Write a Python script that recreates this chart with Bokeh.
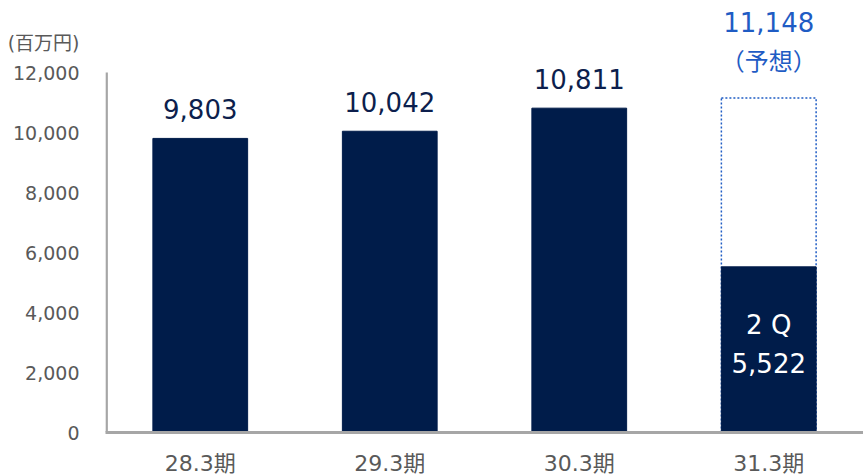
from bokeh.plotting import figure
from bokeh.models import Range1d, FactorRange, ColumnDataSource, FixedTicker, NumeralTickFormatter, CustomJSTickFormatter
from bokeh.core.properties import value
from bokeh.embed import file_html
from bokeh.resources import INLINE

categories = ["28.3期", "29.3期", "30.3期", "31.3期"]
actual = [9803, 10042, 10811, 5522]
actual_labels = ["9,803", "10,042", "10,811", ""]
forecast_cat = ["31.3期"]
forecast_val = [11148]
forecast_label = "11,148"
forecast_note = "（予想）"
q_label = "2 Q"
q_value = "5,522"
unit_label = "(百万円)"
y_ticks = [0, 2000, 4000, 6000, 8000, 10000, 12000]
y_max = 12000

FONT = "DejaVu Sans, Noto Sans CJK JP"
NAVY = "#001c4a"
BLUE = "#1f5cc4"
GRAY = "#595959"

p = figure(frame_width=758, frame_height=432, x_range=FactorRange(*categories, range_padding=0),
           y_range=Range1d(0, 14400), output_backend="svg", toolbar_location=None,
           min_border_left=105, min_border_right=0, min_border_top=0, min_border_bottom=44)
p.outline_line_color = None
p.grid.grid_line_color = None
p.background_fill_color = "white"

# y axis line (drawn only up to the last tick)
p.segment(x0=[0.006], y0=[0], x1=[0.006], y1=[y_max], line_color="#a6a6a6", line_width=2.5)

# forecast outline
p.vbar(x=forecast_cat, top=forecast_val, width=0.5, fill_color="white",
       line_color=BLUE, line_dash="2 2", line_width=1.5)
# actual bars
src = ColumnDataSource(dict(x=categories, top=actual, lab=actual_labels))
p.vbar(x="x", top="top", width=0.5, source=src, fill_color=NAVY, line_color=NAVY)
p.text(x="x", y="top", text="lab", source=src, text_align="center", text_baseline="bottom",
       y_offset=-19, text_font=value(FONT), text_font_size="26px", text_color="#0d1f4d")

p.text(x=forecast_cat, y=forecast_val, text=[forecast_note], text_align="center",
       text_baseline="middle", y_offset=-36, text_font=value(FONT), text_font_size="24px",
       text_color=BLUE)
p.text(x=forecast_cat, y=forecast_val, text=[forecast_label], text_align="center",
       text_baseline="middle", y_offset=-76, text_font=value(FONT), text_font_size="26px",
       text_color=BLUE)

p.text(x=forecast_cat, y=[actual[3]], text=[q_label], text_align="center",
       text_baseline="middle", y_offset=58, text_font=value(FONT), text_font_size="26px",
       text_color="white")
p.text(x=forecast_cat, y=[actual[3]], text=[q_value], text_align="center",
       text_baseline="middle", y_offset=96, text_font=value(FONT), text_font_size="26px",
       text_color="white")

ya = p.yaxis[0]
unit_tick = 13000
ya.ticker = FixedTicker(ticks=y_ticks + [unit_tick])
ya.formatter = NumeralTickFormatter(format="0,0")
ya.major_label_overrides = {unit_tick: unit_label}
ya.axis_line_color = None
ya.major_tick_line_color = None
ya.minor_tick_line_color = None
ya.major_label_text_font = FONT
ya.major_label_text_font_size = "19px"
ya.major_label_text_color = GRAY
ya.major_label_standoff = 20

xa = p.xaxis[0]
xa.axis_line_color = "#a6a6a6"
xa.axis_line_width = 3
xa.major_tick_line_color = None
xa.minor_tick_line_color = None
xa.major_label_text_font = FONT
xa.major_label_text_font_size = "22px"
xa.major_label_text_color = GRAY
xa.major_label_standoff = 12

open("out.html", "w").write(file_html(p, INLINE))
